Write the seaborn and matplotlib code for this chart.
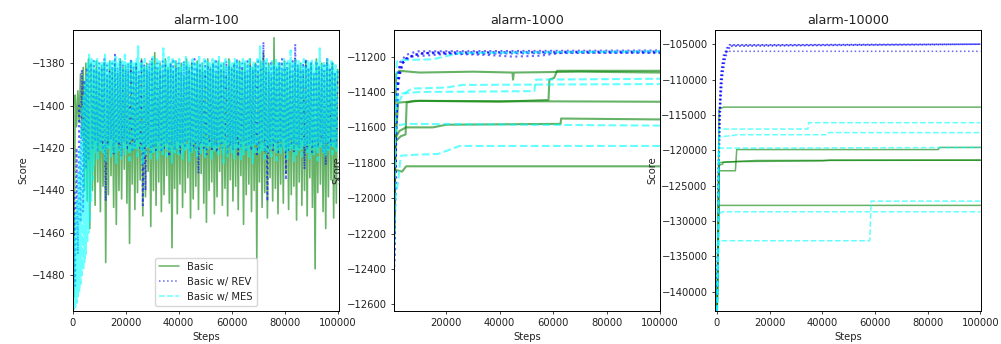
import numpy as np
import pandas as pd
import matplotlib
matplotlib.use("Agg")
import matplotlib.pyplot as plt
import seaborn as sns

METHODS = ["Basic", "Basic w/ REV", "Basic w/ MES"]
COLORS = {"Basic": "green", "Basic w/ REV": "blue", "Basic w/ MES": "cyan"}
DASHES = {"Basic": "", "Basic w/ REV": (1, 1.65), "Basic w/ MES": (3.7, 1.6)}
TITLES = ["alarm-100", "alarm-1000", "alarm-10000"]

# ---------------- alarm-100: noisy score traces ----------------
A100_STEPS_BASIC = np.arange(0, 100001, 500)
A100_BASIC = [
    -1430, -1490, -1395, -1410, -1393, -1408, -1385, -1415, -1382, -1440, -1380, -1445, -1378, -1458, -1380, -1440, -1383, -1447, -1379, -1436,
    -1384, -1450, -1381, -1438, -1380, -1474, -1386, -1442, -1379, -1433, -1383, -1448, -1380, -1456, -1385, -1440, -1378, -1444, -1382, -1430,
    -1381, -1446, -1384, -1465, -1379, -1437, -1383, -1449, -1380, -1441, -1386, -1435, -1378, -1452, -1382, -1443, -1380, -1431, -1384, -1457,
    -1379, -1440, -1375, -1447, -1383, -1436, -1380, -1450, -1385, -1442, -1378, -1433, -1382, -1446, -1380, -1467, -1384, -1439, -1379, -1451,
    -1383, -1437, -1380, -1448, -1386, -1441, -1378, -1434, -1382, -1453, -1380, -1444, -1385, -1438, -1379, -1449, -1383, -1432, -1380, -1446,
    -1384, -1455, -1378, -1440, -1382, -1436, -1380, -1451, -1385, -1443, -1379, -1431, -1383, -1447, -1380, -1439, -1386, -1452, -1378, -1435,
    -1382, -1445, -1380, -1438, -1384, -1449, -1379, -1433, -1383, -1456, -1380, -1442, -1385, -1437, -1378, -1450, -1382, -1440, -1380, -1472,
    -1384, -1436, -1379, -1448, -1375, -1441, -1383, -1453, -1380, -1434, -1386, -1445, -1368, -1439, -1382, -1451, -1380, -1437, -1384, -1446,
    -1379, -1432, -1383, -1449, -1380, -1442, -1385, -1438, -1378, -1454, -1382, -1436, -1380, -1447, -1384, -1440, -1379, -1452, -1383, -1434,
    -1380, -1448, -1386, -1477, -1378, -1441, -1382, -1437, -1380, -1450, -1384, -1458, -1379, -1443, -1383, -1435, -1380, -1453, -1385, -1446,
    -1383,
]

A100_STEPS_REV = np.arange(0, 100001, 500)
A100_REV = [
    -1490, -1440, -1485, -1420, -1470, -1400, -1455, -1383, -1450, -1388, -1430, -1382, -1425, -1380, -1381, -1420, -1379, -1417, -1383, -1422,
    -1380, -1418, -1382, -1421, -1378, -1445, -1381, -1419, -1384, -1416, -1380, -1423, -1376, -1418, -1382, -1420, -1379, -1424, -1381, -1417,
    -1383, -1421, -1380, -1418, -1378, -1422, -1382, -1419, -1380, -1416, -1384, -1420, -1379, -1447, -1381, -1440, -1383, -1418, -1380, -1423,
    -1378, -1419, -1382, -1421, -1380, -1417, -1384, -1422, -1379, -1420, -1381, -1418, -1383, -1424, -1380, -1419, -1378, -1421, -1382, -1417,
    -1380, -1423, -1384, -1418, -1379, -1420, -1381, -1416, -1383, -1422, -1380, -1419, -1378, -1421, -1382, -1432, -1380, -1418, -1384, -1420,
    -1379, -1423, -1381, -1417, -1383, -1421, -1380, -1419, -1378, -1422, -1382, -1418, -1380, -1420, -1384, -1416, -1379, -1423, -1381, -1419,
    -1383, -1421, -1380, -1418, -1378, -1424, -1382, -1420, -1380, -1417, -1384, -1422, -1379, -1419, -1381, -1421, -1383, -1418, -1380, -1423,
    -1378, -1420, -1382, -1417, -1370, -1422, -1380, -1445, -1384, -1419, -1379, -1421, -1381, -1418, -1383, -1423, -1380, -1420, -1378, -1416,
    -1382, -1435, -1380, -1421, -1384, -1418, -1379, -1422, -1371, -1419, -1381, -1420, -1383, -1417, -1380, -1430, -1378, -1421, -1382, -1418,
    -1380, -1423, -1384, -1419, -1379, -1420, -1381, -1417, -1383, -1422, -1380, -1428, -1378, -1421, -1382, -1419, -1380, -1418, -1384, -1420,
    -1383,
]

A100_STEPS_MES = np.arange(0, 100001, 250)
A100_MES = [
    -1497, -1470, -1496, -1462, -1495, -1450, -1493, -1445, -1490, -1432, -1488, -1420, -1484, -1410, -1480, -1400, -1478, -1395, -1474, -1390,
    -1470, -1386, -1465, -1380, -1460, -1376, -1455, -1380, -1445, -1378, -1435, -1381, -1428, -1379, -1422, -1383, -1418, -1377, -1425, -1382,
    -1417, -1380, -1421, -1384, -1414, -1379, -1423, -1381, -1419, -1376, -1426, -1383, -1416, -1380, -1420, -1385, -1418, -1378, -1424, -1381,
    -1415, -1379, -1422, -1382, -1419, -1377, -1427, -1380, -1417, -1384, -1421, -1378, -1413, -1381, -1425, -1379, -1418, -1383, -1420, -1376,
    -1423, -1380, -1416, -1382, -1419, -1379, -1426, -1384, -1417, -1378, -1422, -1381, -1414, -1380, -1420, -1383, -1418, -1377, -1424, -1372,
    -1419, -1380, -1415, -1382, -1421, -1379, -1428, -1383, -1418, -1378, -1423, -1381, -1416, -1380, -1420, -1384, -1417, -1379, -1425, -1382,
    -1418, -1377, -1422, -1380, -1415, -1383, -1420, -1378, -1426, -1381, -1417, -1379, -1421, -1384, -1414, -1380, -1423, -1373, -1419, -1382,
    -1416, -1379, -1424, -1381, -1418, -1377, -1421, -1383, -1415, -1380, -1427, -1378, -1419, -1382, -1422, -1379, -1417, -1384, -1420, -1380,
    -1423, -1378, -1416, -1381, -1419, -1383, -1425, -1379, -1418, -1380, -1421, -1377, -1414, -1382, -1420, -1379, -1426, -1381, -1417, -1384,
    -1422, -1378, -1418, -1380, -1415, -1383, -1421, -1379, -1424, -1381, -1419, -1377, -1416, -1382, -1423, -1380, -1418, -1384, -1420, -1378,
    -1425, -1381, -1417, -1379, -1421, -1383, -1414, -1380, -1419, -1382, -1426, -1378, -1418, -1381, -1422, -1379, -1416, -1384, -1420, -1380,
    -1423, -1377, -1418, -1382, -1415, -1379, -1421, -1383, -1427, -1380, -1417, -1378, -1420, -1381, -1424, -1384, -1418, -1379, -1416, -1382,
    -1422, -1380, -1419, -1383, -1425, -1378, -1417, -1381, -1421, -1379, -1414, -1382, -1420, -1380, -1426, -1384, -1418, -1377, -1423, -1381,
    -1416, -1379, -1421, -1383, -1418, -1380, -1424, -1378, -1415, -1382, -1420, -1381, -1427, -1379, -1417, -1384, -1422, -1380, -1419, -1378,
    -1414, -1382, -1423, -1372, -1418, -1380, -1421, -1383, -1416, -1379, -1425, -1381, -1419, -1378, -1422, -1384, -1417, -1380, -1420, -1382,
    -1424, -1379, -1418, -1381, -1415, -1383, -1421, -1378, -1426, -1380, -1417, -1382, -1420, -1379, -1423, -1384, -1416, -1381, -1419, -1378,
    -1422, -1380, -1418, -1383, -1425, -1379, -1417, -1381, -1421, -1374, -1414, -1382, -1420, -1380, -1427, -1384, -1418, -1378, -1423, -1381,
    -1416, -1379, -1421, -1383, -1419, -1380, -1424, -1382, -1417, -1378, -1420, -1381, -1415, -1384, -1422, -1379, -1418, -1380, -1425, -1382,
    -1419, -1378, -1416, -1381, -1423, -1383, -1418, -1379, -1421, -1380, -1426, -1382, -1417, -1373, -1420, -1381, -1414, -1384, -1422, -1379,
    -1418, -1380, -1424, -1382, -1417, -1378, -1421, -1381, -1419, -1383, -1416, -1379, -1423, -1380, -1418, -1384, -1420, -1381, -1422, -1383,
    -1386,
]

# ---------------- alarm-1000: (step, score) checkpoints per run ----------------
A1000_BASIC = [
    [(0, -12700), (1200, -11300), (2500, -11280), (10000, -11290), (30000, -11285),
     (44800, -11290), (45000, -11330), (45300, -11290), (70000, -11285), (100000, -11290)],
    [(0, -12700), (1000, -11700), (2000, -11460), (10000, -11450), (40000, -11455),
     (58300, -11445), (58600, -11330), (60400, -11320), (61500, -11280), (100000, -11280)],
    [(0, -12700), (1000, -11680), (3000, -11650), (4800, -11640), (5200, -11460),
     (8000, -11450), (100000, -11455)],
    [(0, -12700), (1000, -11660), (2500, -11620), (5000, -11600), (15000, -11600),
     (20000, -11585), (62800, -11580), (63000, -11550), (100000, -11555)],
    [(0, -12700), (800, -11840), (3500, -11850), (5000, -11820), (100000, -11820)],
]
A1000_REV = [
    [(0, -12700), (500, -12400), (1000, -11700), (1500, -11400), (2500, -11260),
     (4000, -11220), (8000, -11190), (15000, -11175), (100000, -11170)],
    [(0, -12700), (600, -12300), (1100, -11650), (1800, -11380), (3000, -11250),
     (5000, -11210), (10000, -11180), (100000, -11175)],
    [(0, -12700), (700, -12200), (1300, -11600), (2000, -11350), (3500, -11240),
     (6000, -11200), (12000, -11180), (35000, -11190), (45000, -11200),
     (55000, -11195), (65000, -11175), (100000, -11180)],
    [(0, -12700), (500, -12350), (1000, -11620), (1600, -11330), (2800, -11230),
     (5000, -11190), (9000, -11170), (100000, -11165)],
    [(0, -12700), (800, -12100), (1400, -11550), (2200, -11320), (4000, -11230),
     (7000, -11200), (20000, -11185), (100000, -11175)],
]
A1000_MES = [
    [(0, -12700), (800, -11500), (1500, -11230), (3000, -11220), (15000, -11215),
     (25000, -11180), (100000, -11170)],
    [(0, -12700), (1000, -11500), (2000, -11410), (10000, -11400), (53000, -11395),
     (53500, -11330), (100000, -11325)],
    [(0, -12700), (1000, -11470), (2500, -11450), (3500, -11420), (6000, -11390),
     (8000, -11380), (20000, -11375), (26000, -11360), (100000, -11355)],
    [(0, -12700), (700, -11650), (1500, -11590), (5000, -11580), (100000, -11590)],
    [(0, -12700), (1000, -12000), (2000, -11900), (3000, -11760), (8000, -11755),
     (17000, -11750), (25000, -11705), (100000, -11705)],
]

# ---------------- alarm-10000: (step, score) checkpoints per run ----------------
A10000_BASIC = [
    [(0, -145000), (800, -114200), (2500, -113900), (100000, -113900)],
    [(0, -145000), (800, -121800), (2000, -121700), (15000, -121450), (100000, -121400)],
    [(0, -145000), (800, -122100), (2000, -122000), (2500, -121700), (8000, -121600),
     (40000, -121500), (43000, -121400), (100000, -121400)],
    [(0, -145000), (800, -122900), (7000, -122900), (7500, -119900), (84000, -119900),
     (84500, -119600), (100000, -119600)],
    [(0, -145000), (800, -127800), (100000, -127800)],
]
A10000_REV = [
    [(0, -145000), (500, -125000), (1000, -114000), (1500, -111000), (2000, -108500),
     (3000, -106500), (4000, -105500), (5000, -105100), (100000, -105000)],
    [(0, -145000), (600, -124000), (1200, -114500), (1800, -110500), (2600, -107800),
     (3600, -106000), (4800, -105300), (100000, -105000)],
    [(0, -145000), (700, -123000), (1400, -113500), (2100, -109500), (3000, -107300),
     (4200, -105800), (5500, -105200), (100000, -105000)],
    [(0, -145000), (400, -126000), (900, -115000), (1400, -110000), (2200, -107500),
     (3400, -105700), (4600, -105100), (100000, -105000)],
    [(0, -145000), (500, -125000), (1000, -113000), (1500, -109000), (2500, -106500),
     (4000, -106000), (100000, -106000)],
]
A10000_MES = [
    [(0, -145000), (700, -117000), (34500, -117000), (34800, -116100), (100000, -116100)],
    [(0, -145000), (800, -118200), (1500, -118100), (8000, -117800), (42000, -117800),
     (42500, -117500), (100000, -117500)],
    [(0, -145000), (800, -119700), (100000, -119600)],
    [(0, -145000), (700, -132800), (58000, -132800), (58500, -127200), (100000, -127200)],
    [(0, -145000), (800, -129000), (2000, -128700), (100000, -128700)],
]


def long_frame(runs_by_method):
    rows = []
    for method, runs in runs_by_method.items():
        for r, run in enumerate(runs):
            for step, score in run:
                rows.append({"Steps": step, "Score": score, "method": method, "run": r})
    return pd.DataFrame(rows)


panels = [
    long_frame({
        "Basic": [list(zip(A100_STEPS_BASIC, A100_BASIC))],
        "Basic w/ REV": [list(zip(A100_STEPS_REV, A100_REV))],
        "Basic w/ MES": [list(zip(A100_STEPS_MES, A100_MES))],
    }),
    long_frame({"Basic": A1000_BASIC, "Basic w/ REV": A1000_REV, "Basic w/ MES": A1000_MES}),
    long_frame({"Basic": A10000_BASIC, "Basic w/ REV": A10000_REV, "Basic w/ MES": A10000_MES}),
]

XLIMS = [(0, 100500), (300, 100000), (-900, 100200)]
YLIMS = [(-1496.7, -1364.3), (-12636, -11049), (-142688, -102977)]
LINE_WIDTHS = [
    {"Basic": 1.2, "Basic w/ REV": 1.4, "Basic w/ MES": 1.6},
    {"Basic": 1.5, "Basic w/ REV": 1.5, "Basic w/ MES": 1.5},
    {"Basic": 1.1, "Basic w/ REV": 1.1, "Basic w/ MES": 1.1},
]

sns.set_theme(style="ticks", rc={
    "axes.titlesize": 9.2,
    "axes.labelsize": 7.2,
    "xtick.labelsize": 7.2,
    "ytick.labelsize": 7.2,
    "legend.fontsize": 7.2,
    "axes.linewidth": 0.7,
    "xtick.major.size": 2.5,
    "ytick.major.size": 2.5,
    "xtick.major.width": 0.6,
    "ytick.major.width": 0.6,
    "xtick.major.pad": 2.5,
    "ytick.major.pad": 2.5,
    "axes.titlepad": 4.3,
    "axes.labelpad": 2.9,
    "axes.edgecolor": "black",
    "text.color": "#222222",
    "axes.labelcolor": "#222222",
    "xtick.color": "#222222",
    "ytick.color": "#222222",
})
plt.rcParams["font.family"] = ["DejaVu Sans"]

fig, axes = plt.subplots(1, 3, figsize=(10.01, 3.44), dpi=100)
fig.subplots_adjust(left=0.0725, right=0.980, bottom=0.097, top=0.913, wspace=0.205)

for i, ax in enumerate(axes):
    sns.lineplot(
        data=panels[i], x="Steps", y="Score",
        hue="method", style="method", size="method", units="run", estimator=None,
        hue_order=METHODS, style_order=METHODS, size_order=METHODS,
        palette=COLORS, dashes=DASHES, sizes=LINE_WIDTHS[i], alpha=0.6,
        ax=ax, legend=(i == 0),
    )
    ax.set_xlim(*XLIMS[i])
    ax.set_ylim(*YLIMS[i])
    ax.set_title(TITLES[i])
    ax.set_xlabel("Steps")
    ax.set_ylabel("Score")
    if i == 0:
        handles, labels = ax.get_legend_handles_labels()
        for h in handles:
            h.set_alpha(0.6)
            h.set_linewidth(1.1)
        ax.legend(handles, labels, loc="lower center", title=None)

fig.savefig("out.png", dpi=100)
